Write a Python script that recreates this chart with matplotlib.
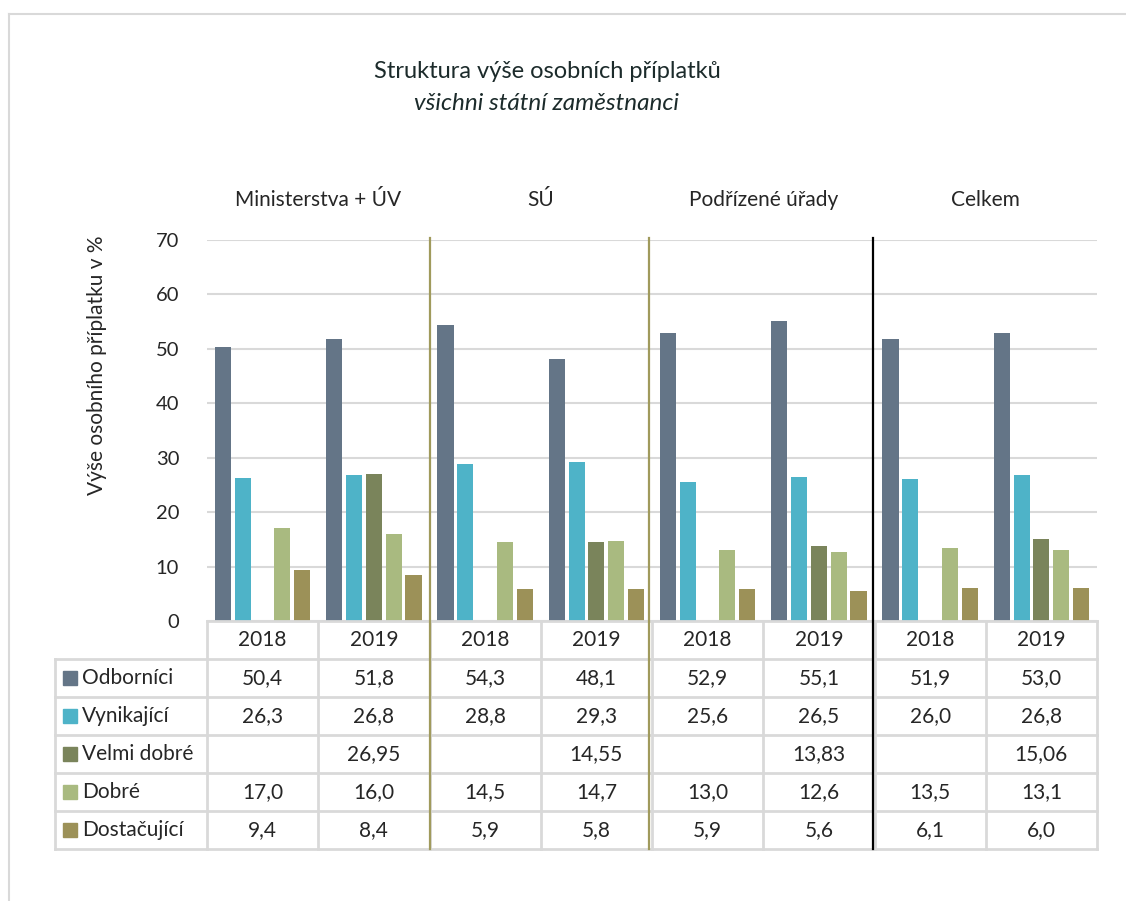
import numpy as np
import matplotlib.pyplot as plt
from matplotlib.lines import Line2D
from matplotlib.patches import Rectangle
import matplotlib.transforms as mtransforms

plt.rcParams['font.family'] = ['Lato', 'DejaVu Sans']

years = ["2018", "2019", "2018", "2019", "2018", "2019", "2018", "2019"]
groups = ["Ministerstva + ÚV", "SÚ", "Podřízené úřady", "Celkem"]
series = ["Odborníci", "Vynikající", "Velmi dobré", "Dobré", "Dostačující"]

odbornici = [50.4, 51.8, 54.3, 48.1, 52.9, 55.1, 51.9, 53.0]
vynikajici = [26.3, 26.8, 28.8, 29.3, 25.6, 26.5, 26.0, 26.8]
velmi_dobre = [np.nan, 26.95, np.nan, 14.55, np.nan, 13.83, np.nan, 15.06]
dobre = [17.0, 16.0, 14.5, 14.7, 13.0, 12.6, 13.5, 13.1]
dostacujici = [9.4, 8.4, 5.9, 5.8, 5.9, 5.6, 6.1, 6.0]

values = [odbornici, vynikajici, velmi_dobre, dobre, dostacujici]
decimals = [1, 1, 2, 1, 1]
colors = ["#647587", "#4eb3c8", "#7a845b", "#a9ba80", "#9c9158"]

W, H = 1126, 901
fig = plt.figure(figsize=(W / 100, H / 100), dpi=100)

def fx(px):
    return px / W

def fy(py):
    return 1 - py / H

grid_c = "#d9d9d9"
text_c = "#262626"
fs = 15

# chart area
ax = fig.add_axes([fx(207), fy(621), fx(1097) - fx(207), fy(240) - fy(621)])
ax.set_xlim(0, 8)
ax.set_ylim(0, 70)
x = np.arange(8) + 0.5
step = 0.178
bw = 0.145
for i, (name, vals, col) in enumerate(zip(series, values, colors)):
    ax.bar(x + (i - 2) * step, vals, width=bw, color=col, zorder=3)
ax.set_yticks(range(0, 71, 10))
ax.yaxis.grid(True, color=grid_c, linewidth=1.5, zorder=0)
ax.set_xticks([])
for s in ax.spines.values():
    s.set_visible(False)
ax.tick_params(axis='y', length=0, pad=20, labelsize=14.5, labelcolor=text_c)
fig.text(fx(97), fy(365), "Výše osobního příplatku v %", rotation=90,
         ha='center', va='center', fontsize=fs, color=text_c)

# table area
tb = fig.add_axes([fx(207), fy(849), fx(1097) - fx(207), fy(621) - fy(849)])
tb.set_xlim(0, 8)
tb.set_ylim(6, 0)
tb.axis('off')
left = (55 - 207) / 111.25
lw = 2
tb.plot([0, 8], [0, 0], color=grid_c, lw=lw, clip_on=False)
for r in range(1, 7):
    tb.plot([left, 8], [r, r], color=grid_c, lw=lw, clip_on=False)
tb.plot([left, left], [1, 6], color=grid_c, lw=lw, clip_on=False)
for c in range(0, 9):
    tb.plot([c, c], [0, 6], color=grid_c, lw=lw, clip_on=False)
for c, yr in enumerate(years):
    tb.text(c + 0.5, 0.5, yr, ha='center', va='center', fontsize=fs, color=text_c)
sq_w = 14 / 111.25
for r, (name, vals, dec, col) in enumerate(zip(series, values, decimals, colors)):
    yc = r + 1.5
    tb.add_patch(Rectangle((left + 8 / 111.25, yc - 0.19), sq_w, 0.38,
                           color=col, clip_on=False))
    tb.text(left + 27 / 111.25, yc, name, ha='left', va='center', fontsize=fs, color=text_c)
    for c, v in enumerate(vals):
        if np.isnan(v):
            continue
        lab = f"{v:.{dec}f}".replace(".", ",")
        tb.text(c + 0.5, yc, lab, ha='center', va='center', fontsize=fs, color=text_c)

# separator lines between groups
trans = mtransforms.blended_transform_factory(ax.transData, fig.transFigure)
for xs, col in [(2, "#a09a5c"), (3.97, "#a09a5c"), (5.99, "#000000")]:
    fig.add_artist(Line2D([xs, xs], [fy(849), fy(238)], transform=trans,
                          color=col, lw=1.6))

# group labels
for g, name in enumerate(groups):
    fig.text(2 * g + 1, fy(200), name, transform=trans, ha='center', va='center',
             fontsize=fs, color=text_c)

# titles
fig.text(fx(547), fy(72), "Struktura výše osobních příplatků", ha='center', va='center',
         fontsize=17, color="#1c2b2b")
fig.text(fx(547), fy(104), "všichni státní zaměstnanci", ha='center', va='center',
         fontsize=17.5, style='italic', color="#1c2b2b")

# outer frame
fig.add_artist(Line2D([fx(9), 1], [fy(14), fy(14)], color=grid_c, lw=1.5))
fig.add_artist(Line2D([fx(9), fx(9)], [fy(14), 0], color=grid_c, lw=1.5))

fig.savefig("out.png", dpi=100)
